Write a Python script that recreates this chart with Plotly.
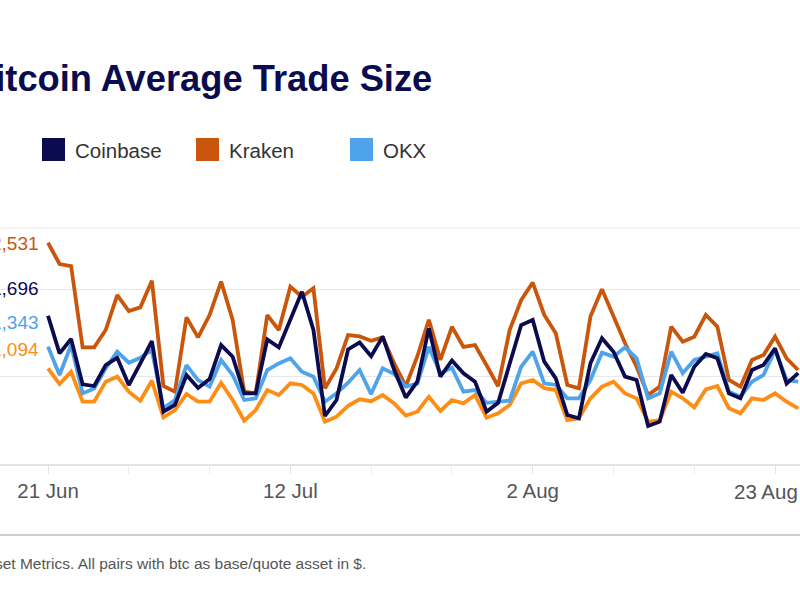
import pandas as pd
import plotly.graph_objects as go

# ---------------- data ----------------
start_date = "2023-06-21"
n_days = 66
dates = pd.date_range(start_date, periods=n_days, freq="D")

coinbase = [1696, 1266, 1430, 911, 892, 1132, 1216, 903, 1151, 1407,
            598, 675, 1018, 870, 972, 1361, 1228, 808, 808, 1426,
            1334, 1647, 1971, 1533, 549, 732, 1310, 1390, 1232, 1457,
            1075, 760, 942, 1552, 999, 1185, 1038, 942, 598, 700,
            1150, 1590, 1648, 1171, 980, 561, 523, 1152, 1438, 1285,
            999, 961, 435, 484, 1018, 816, 1113, 1259, 1209, 808,
            751, 1075, 1133, 1324, 920, 1040]

kraken = [2531, 2288, 2265, 1334, 1334, 1533, 1933, 1750, 1792, 2097,
          892, 827, 1678, 1449, 1704, 2086, 1647, 827, 808, 1704,
          1533, 2029, 1914, 2010, 865, 1094, 1476, 1460, 1410, 1450,
          1150, 890, 1230, 1650, 1190, 1570, 1340, 1360, 1130, 890,
          1533, 1876, 2075, 1705, 1495, 904, 866, 1686, 1998, 1686,
          1381, 1113, 789, 885, 1571, 1400, 1457, 1705, 1571, 961,
          885, 1190, 1247, 1457, 1209, 1075]

okx = [1343, 1018, 1361, 808, 865, 1094, 1285, 1159, 1216, 1304,
       637, 732, 1132, 960, 885, 1190, 1018, 732, 751, 1075,
       1151, 1209, 1056, 999, 713, 808, 930, 1075, 800, 1095,
       1030, 885, 920, 1340, 1038, 1100, 827, 846, 700, 713,
       725, 1113, 1285, 923, 904, 751, 751, 961, 1274, 1228,
       1335, 1209, 751, 808, 1285, 1038, 1190, 1228, 1266, 827,
       770, 942, 1018, 1304, 961, 942]

binance = [1094, 915, 1056, 713, 713, 942, 999, 827, 724, 953,
           534, 617, 801, 713, 713, 930, 732, 495, 617, 846,
           789, 923, 904, 808, 484, 541, 665, 740, 718, 789,
           694, 555, 598, 770, 608, 732, 694, 789, 530, 580,
           675, 923, 961, 868, 846, 503, 523, 751, 885, 942,
           808, 751, 484, 500, 827, 751, 648, 854, 892, 637,
           580, 751, 732, 808, 713, 637]

tick_dates = ["2023-06-21", "2023-07-12", "2023-08-02", "2023-08-23"]
tick_labels = ["21 Jun", "12 Jul", "2 Aug", "23 Aug"]

title_text = "Bitcoin Average Trade Size"
footer_text = "Source: Asset Metrics. All pairs with btc as base/quote asset in $."

# ---------------- style ----------------
COL = {
    "Coinbase": "#0b0b4f",
    "Kraken": "#c9560b",
    "OKX": "#4ea3ea",
    "Binance": "#fd8d14",
}
FONT = "Liberation Sans, Arial, sans-serif"
W, H = 800, 600
PLOT_TOP, PLOT_BOTTOM = 228, 464


def px(x):
    return x / W


def py(y):
    return (PLOT_BOTTOM - y) / (PLOT_BOTTOM - PLOT_TOP)


fig = go.Figure()
series = [("Binance", binance), ("Kraken", kraken), ("OKX", okx), ("Coinbase", coinbase)]
for name, vals in series:
    fig.add_trace(go.Scatter(
        x=dates, y=vals, name=name, mode="lines",
        line=dict(color=COL[name], width=3.8),
        showlegend=False, hoverinfo="x+y+name",
    ))

annotations = []
shapes = []

# title (cropped on the left as in the reference)
annotations.append(dict(
    x=px(433.5), y=py(79), xref="paper", yref="paper", xanchor="right", yanchor="middle",
    text="<b>%s</b>" % title_text, showarrow=False,
    font=dict(family=FONT, size=36.3, color="#0b0b4f"),
))

# legend
legend_items = ["Coinbase", "Kraken", "OKX"]
for k, name in enumerate(legend_items):
    x0 = 42 + 154 * k
    shapes.append(dict(type="rect", xref="paper", yref="paper",
                       x0=px(x0), x1=px(x0 + 23), y0=py(161), y1=py(138),
                       fillcolor=COL[name], line=dict(width=0)))
    annotations.append(dict(
        x=px(x0 + 31), y=py(150), xref="paper", yref="paper",
        xanchor="left", yanchor="middle", text=name, showarrow=False,
        font=dict(family=FONT, size=20.5, color="#333333"),
    ))

# start-value labels on the left
label_pos = {"Kraken": 243, "Coinbase": 288, "OKX": 322, "Binance": 349}
first_vals = {"Kraken": kraken[0], "Coinbase": coinbase[0], "OKX": okx[0], "Binance": binance[0]}
for name, ypix in label_pos.items():
    annotations.append(dict(
        x=px(41), y=py(ypix), xref="paper", yref="paper",
        xanchor="right", yanchor="middle", text=f"{first_vals[name]:,}", showarrow=False,
        font=dict(family=FONT, size=19, color=COL[name]),
    ))

# last tick label sits at the right edge of the page: draw it flush with the edge
axis_ticktext = tick_labels[:-1] + [""]
annotations.append(dict(
    x=px(799.5), y=py(491), xref="paper", yref="paper", xanchor="right", yanchor="middle",
    text=tick_labels[-1], showarrow=False,
    font=dict(family=FONT, size=20.5, color="#555555"),
))

# top border of plot
shapes.append(dict(type="line", xref="paper", yref="paper", x0=0, x1=1, y0=1, y1=1,
                   line=dict(color="#e8e8e8", width=1)))
# footer separator
shapes.append(dict(type="line", xref="paper", yref="paper", x0=0, x1=1,
                   y0=py(535), y1=py(535), line=dict(color="#bdbdbd", width=1.5)))
annotations.append(dict(
    x=px(368), y=py(563), xref="paper", yref="paper", xanchor="right", yanchor="middle",
    text=footer_text, showarrow=False,
    font=dict(family=FONT, size=15.5, color="#555555"),
))

fig.update_layout(
    width=W, height=H,
    margin=dict(l=0, r=0, t=PLOT_TOP, b=H - PLOT_BOTTOM, pad=0),
    paper_bgcolor="white", plot_bgcolor="white",
    annotations=annotations, shapes=shapes,
    font=dict(family=FONT),
    xaxis=dict(
        type="date",
        range=["2023-06-16 20:10", "2023-08-25 03:50"],
        tickvals=tick_dates, ticktext=axis_ticktext,
        ticks="outside", ticklen=8, tickcolor="#e3e3e3", tickwidth=1,
        tickfont=dict(family=FONT, size=20.5, color="#555555"),
        showline=True, linecolor="#e3e3e3", linewidth=1.5,
        showgrid=False, zeroline=False,
        minor=dict(ticks="outside", ticklen=8, tickcolor="#ececec",
                   tick0="2023-06-21", dtick=7 * 86400000, showgrid=False),
    ),
    yaxis=dict(
        range=[0, 2700], tickvals=[0, 1000, 2000], showticklabels=False,
        showgrid=True, gridcolor="#e8e8e8", gridwidth=1,
        zeroline=False, showline=False, ticks="",
    ),
)

fig.write_html(
    "out.html", config={"displayModeBar": False},
    post_script="document.body.style.margin='0';",
)
